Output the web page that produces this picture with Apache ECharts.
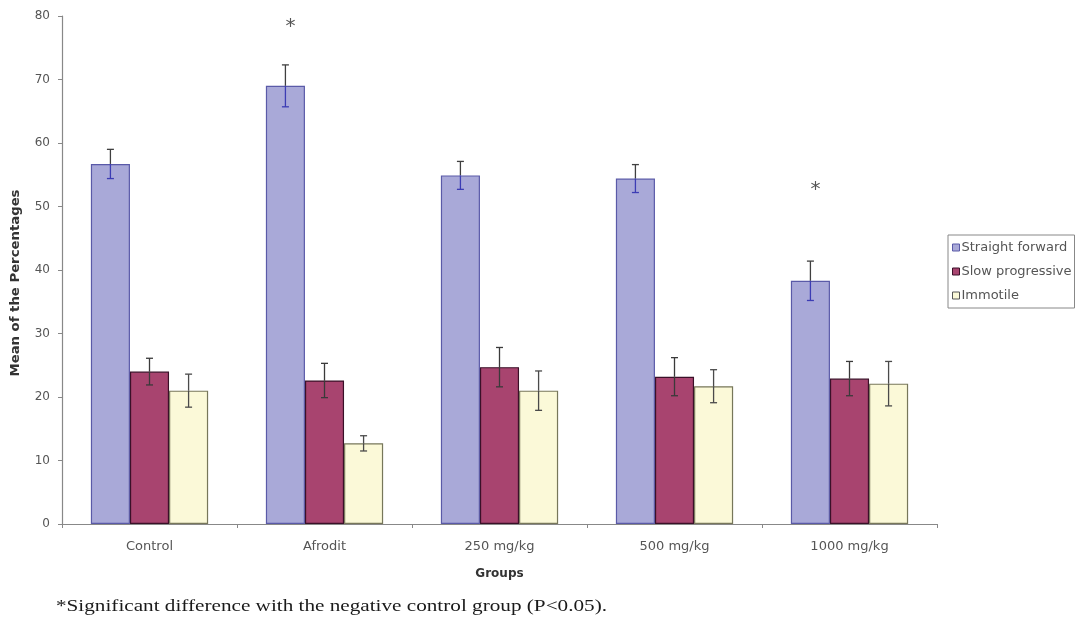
<!DOCTYPE html>
<html>
<head>
<meta charset="utf-8">
<script src="https://cdn.jsdelivr.net/npm/echarts@6/dist/echarts.min.js"></script>
<style>
html,body{margin:0;padding:0;background:#fff;}
#chart{width:1081px;height:621px;}
</style>
</head>
<body>
<div id="chart"></div>
<script>
const categories = ['Control', 'Afrodit', '250 mg/kg', '500 mg/kg', '1000 mg/kg'];
const seriesNames = ['Straight forward', 'Slow progressive', 'Immotile'];
const straightForward = [56.7, 69.0, 54.9, 54.4, 38.3];
const straightForwardErr = [2.3, 3.3, 2.2, 2.2, 3.1];
const slowProgressive = [24.0, 22.6, 24.7, 23.2, 22.9];
const slowProgressiveErr = [2.1, 2.7, 3.1, 3.0, 2.7];
const immotile = [21.0, 12.7, 21.0, 21.7, 22.1];
const immotileErr = [2.6, 1.2, 3.1, 2.6, 3.5];
const starCategories = ['Afrodit', '1000 mg/kg'];
const starValues = [78.6, 53.0];
const yTicks = [0, 10, 20, 30, 40, 50, 60, 70, 80];
const yTitle = 'Mean of the Percentages';
const xTitle = 'Groups';
const footnote = '*Significant difference with the negative control group (P<0.05).';

const values = [straightForward, slowProgressive, immotile];
const errors = [straightForwardErr, slowProgressiveErr, immotileErr];
const fills = ['#a9a9d8', '#a8446f', '#fbf9d8'];
const borders = ['#5a5aa8', '#3a1028', '#77775a'];
const errLower = ['#3c3cb4', '#3a3a3a', '#4a4a4a'];
const errUpper = ['#404040', '#3a3a3a', '#4a4a4a'];

const GAP = 0.33;
function barOffset(idx, band) {
  const bw = band * (1 - GAP) / 3;
  return (idx - 1) * bw;
}

function measure(text, font) {
  const c = document.createElement('canvas').getContext('2d');
  c.font = font;
  return c.measureText(text).width;
}

const footFont = '17px "Liberation Serif", "Times New Roman", serif';
const footScale = 551 / measure(footnote, footFont);
const yTitleFont = 'bold 12px "DejaVu Sans", sans-serif';
const yTitleScale = 187 / measure(yTitle, yTitleFont);

const chart = echarts.init(document.getElementById('chart'), null, {renderer: 'canvas'});

const series = [];
values.forEach((vals, i) => {
  series.push({
    name: seriesNames[i],
    type: 'bar',
    data: vals,
    barGap: '0%',
    barCategoryGap: '33%',
    itemStyle: {color: fills[i], borderColor: borders[i], borderWidth: 1.2},
    emphasis: {disabled: true},
    animation: false
  });
});
values.forEach((vals, i) => {
  series.push({
    name: seriesNames[i] + ' err',
    type: 'custom',
    data: vals.map((v, k) => [k, v, errors[i][k]]),
    renderItem: function (params, api) {
      const k = api.value(0), v = api.value(1), e = api.value(2);
      const band = api.size([1, 0])[0];
      const c = api.coord([k, v]);
      const hi = api.coord([k, v + e]);
      const lo = api.coord([k, v - e]);
      const x = c[0] + barOffset(i, band);
      const cap = 3.5;
      const st1 = {stroke: errUpper[i], lineWidth: 1.3};
      const st2 = {stroke: errLower[i], lineWidth: 1.3};
      return {
        type: 'group',
        children: [
          {type: 'line', shape: {x1: x, y1: hi[1], x2: x, y2: c[1]}, style: st1},
          {type: 'line', shape: {x1: x - cap, y1: hi[1], x2: x + cap, y2: hi[1]}, style: st1},
          {type: 'line', shape: {x1: x, y1: c[1], x2: x, y2: lo[1]}, style: st2},
          {type: 'line', shape: {x1: x - cap, y1: lo[1], x2: x + cap, y2: lo[1]}, style: st2}
        ]
      };
    },
    z: 5,
    silent: true,
    animation: false
  });
});
series.push({
  name: 'stars',
  type: 'custom',
  data: starCategories.map((c, k) => [categories.indexOf(c), starValues[k]]),
  renderItem: function (params, api) {
    const band = api.size([1, 0])[0];
    const p = api.coord([api.value(0), api.value(1)]);
    return {
      type: 'text',
      x: p[0] + barOffset(0, band) + 5,
      y: p[1] + 2,
      style: {text: '*', fill: '#555', font: '20px "DejaVu Sans", sans-serif', align: 'center', verticalAlign: 'middle'}
    };
  },
  silent: true,
  animation: false
});

chart.setOption({
  backgroundColor: '#fff',
  animation: false,
  grid: {left: 62, right: 144, top: 16, bottom: 97, containLabel: false},
  legend: {
    data: seriesNames.map((n, i) => ({name: n, itemStyle: {color: fills[i], borderColor: i === 2 ? '#555' : borders[i], borderWidth: 1}})),
    orient: 'vertical',
    left: 948,
    top: 235,
    itemWidth: 7,
    itemHeight: 7,
    itemGap: 11,
    icon: 'rect',
    padding: [6, 3, 6, 4],
    borderColor: '#888',
    borderWidth: 1,
    textStyle: {fontFamily: '"DejaVu Sans", sans-serif', fontSize: 13, color: '#555', padding: [0, 0, 0, -3]}
  },
  xAxis: {
    type: 'category',
    data: categories,
    name: xTitle,
    nameLocation: 'middle',
    nameGap: 44,
    nameTextStyle: {fontFamily: '"DejaVu Sans", sans-serif', fontWeight: 'bold', fontSize: 12, color: '#333'},
    axisLine: {lineStyle: {color: '#888', width: 1.2}},
    axisTick: {show: true, alignWithLabel: false, length: 4, lineStyle: {color: '#888'}},
    axisLabel: {fontFamily: '"DejaVu Sans", sans-serif', fontSize: 13, color: '#555', margin: 16}
  },
  yAxis: {
    type: 'value',
    min: 0,
    max: 80,
    interval: 10,
    splitLine: {show: false},
    axisLine: {show: true, lineStyle: {color: '#888', width: 1.2}},
    axisTick: {show: true, length: 4, lineStyle: {color: '#888'}},
    axisLabel: {fontFamily: '"DejaVu Sans", sans-serif', fontSize: 12, color: '#555', margin: 12,
      formatter: v => yTicks.includes(v) ? String(v) : ''}
  },
  graphic: [{
    type: 'text',
    x: 16,
    y: 283,
    rotation: Math.PI / 2,
    scaleX: yTitleScale,
    style: {text: yTitle, fill: '#333', font: yTitleFont, align: 'center', verticalAlign: 'middle'}
  }, {
    type: 'text',
    x: 56,
    y: 607,
    scaleX: footScale,
    style: {text: footnote, fill: '#1a1a1a', font: footFont, align: 'left', verticalAlign: 'middle'}
  }],
  series: series
});
</script>
</body>
</html>
